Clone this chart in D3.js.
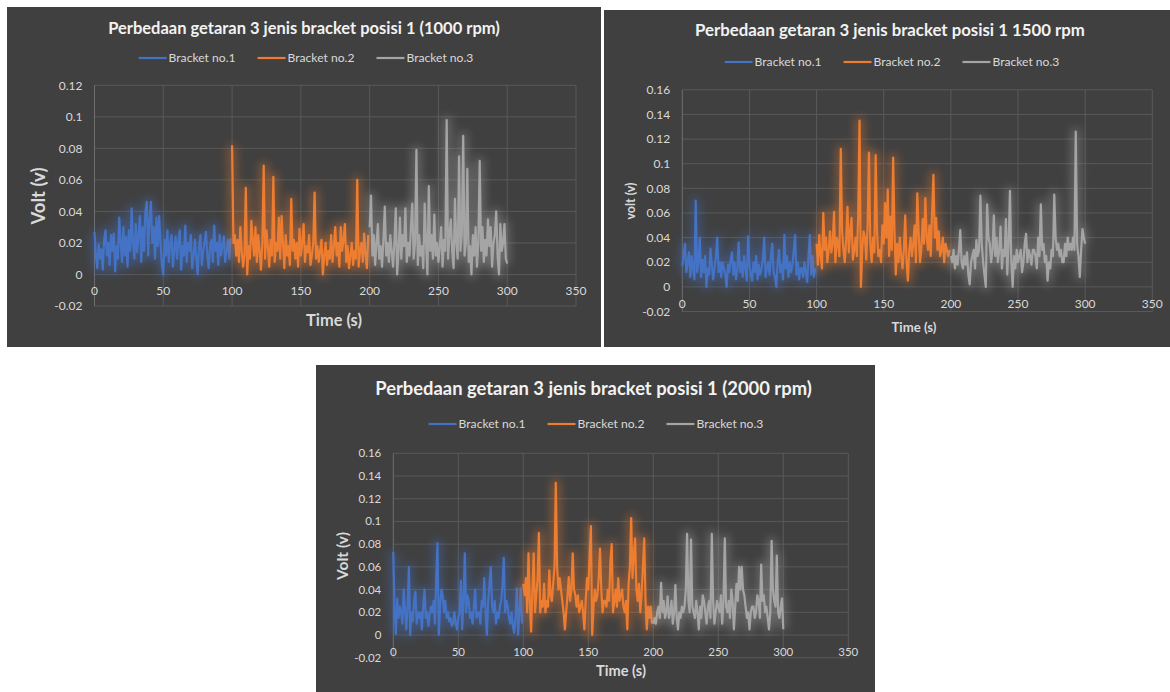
<!DOCTYPE html>
<html>
<head>
<meta charset="utf-8">
<script src="https://cdn.jsdelivr.net/npm/d3@7"></script>
<style>
  body { margin: 0; background: #ffffff; }
  svg { display: block; }
  text { font-family: Lato, "Open Sans", sans-serif; }
</style>
</head>
<body>
<svg id="chart" width="1170" height="692"></svg>
<script>
// ---- data ----
const SERIES_NAMES = ["Bracket no.1", "Bracket no.2", "Bracket no.3"];
const SERIES_COLORS = ["#4472c4", "#ed7d31", "#a5a5a5"];
const SERIES_START = [0, 100, 200]; // seconds, one sample per second

const TITLES = [
  "Perbedaan getaran 3 jenis bracket posisi 1 (1000 rpm)",
  "Perbedaan getaran 3 jenis bracket posisi 1 1500 rpm",
  "Perbedaan getaran 3 jenis bracket posisi 1 (2000 rpm)"
];
const Y_TITLES = ["Volt (v)", "volt (v)", "Volt (v)"];
const X_TITLE = "Time (s)";

const X_TICKS = [0, 50, 100, 150, 200, 250, 300, 350];
const Y_TICKS_SMALL = [-0.02, 0, 0.02, 0.04, 0.06, 0.08, 0.1, 0.12];
const Y_TICKS_LARGE = [-0.02, 0, 0.02, 0.04, 0.06, 0.08, 0.1, 0.12, 0.14, 0.16];

// 1000 rpm
const rpm1000_b1 = [0.027,0.012,0.004,0.019,0.01,0.016,0.003,0.022,0.028,0.012,
  0.02,0.006,0.025,0.015,0.026,0.002,0.018,0.01,0.036,0.02,
  0.008,0.03,0.012,0.024,0.005,0.028,0.015,0.042,0.02,0.01,
  0.032,0.014,0.025,0.037,0.008,0.03,0.015,0.04,0.046,0.012,
  0.035,0.046,0.02,0.03,0.01,0.036,0.018,0.037,0.02,0.006,
  0.0,0.022,0.012,0.028,0.008,0.019,0.025,0.005,0.016,0.024,
  0.01,0.02,0.028,0.003,0.018,0.012,0.031,0.008,0.02,0.015,
  0.025,0.004,0.012,0.022,0.01,0.0,0.018,0.025,0.006,0.015,
  0.02,0.027,0.012,0.004,0.018,0.022,0.008,0.031,0.015,0.02,
  0.006,0.025,0.012,0.018,0.024,0.008,0.015,0.022,0.01,0.023];
const rpm1000_b2 = [0.082,0.02,0.025,0.012,0.022,0.008,0.03,0.015,0.005,0.012,
  0.055,0.0,0.018,0.01,0.034,0.022,0.012,0.03,0.008,0.025,
  0.015,0.003,0.02,0.069,0.01,0.028,0.018,0.005,0.022,0.012,
  0.062,0.008,0.02,0.015,0.036,0.01,0.037,0.02,0.004,0.025,
  0.012,0.018,0.006,0.048,0.015,0.022,0.01,0.02,0.005,0.029,
  0.012,0.02,0.032,0.008,0.018,0.014,0.025,0.006,0.012,0.02,
  0.052,0.01,0.018,0.008,0.015,0.022,0.0,0.012,0.02,0.006,
  0.015,0.01,0.025,0.008,0.018,0.03,0.012,0.02,0.005,0.03,
  0.015,0.022,0.032,0.008,0.018,0.004,0.012,0.02,0.006,0.015,
  0.01,0.06,0.005,0.015,0.02,0.008,0.026,0.012,0.004,0.025];
const rpm1000_b3 = [0.03,0.05,0.012,0.025,0.006,0.02,0.032,0.01,0.018,0.005,
  0.022,0.043,0.012,0.02,0.008,0.025,0.015,0.005,0.02,0.042,
  0.0,0.015,0.036,0.01,0.025,0.018,0.042,0.008,0.02,0.012,
  0.03,0.045,0.01,0.02,0.079,0.006,0.025,0.012,0.018,0.004,
  0.045,0.02,0.0,0.056,0.015,0.025,0.01,0.038,0.012,0.02,
  0.008,0.018,0.03,0.005,0.022,0.015,0.098,0.01,0.025,0.035,
  0.015,0.004,0.048,0.02,0.01,0.075,0.015,0.025,0.088,0.012,
  0.02,0.067,0.008,0.018,0.0,0.025,0.012,0.03,0.005,0.02,
  0.072,0.015,0.03,0.008,0.022,0.012,0.035,0.018,0.03,0.005,
  0.02,0.025,0.04,0.012,0.0,0.032,0.015,0.02,0.032,0.01,
  0.007];

// 1500 rpm
const rpm1500_b1 = [0.017,0.025,0.035,0.012,0.02,0.028,0.008,0.025,0.015,0.006,
  0.07,0.012,0.02,0.04,0.008,0.022,0.012,0.025,0.0,0.015,
  0.01,0.031,0.018,0.006,0.015,0.025,0.04,0.012,0.02,0.008,
  0.02,0.015,0.01,0.0,0.018,0.012,0.022,0.028,0.01,0.02,
  0.006,0.015,0.036,0.012,0.02,0.008,0.025,0.015,0.005,0.041,
  0.018,0.01,0.005,0.02,0.012,0.025,0.006,0.018,0.01,0.015,
  0.022,0.04,0.008,0.015,0.02,0.01,0.025,0.035,0.012,0.008,
  0.0,0.02,0.03,0.012,0.018,0.006,0.042,0.015,0.025,0.008,
  0.02,0.012,0.018,0.03,0.042,0.01,0.02,0.006,0.015,0.015,
  0.008,0.02,0.012,0.004,0.025,0.042,0.01,0.025,0.008,0.015];
const rpm1500_b2 = [0.035,0.018,0.042,0.025,0.015,0.06,0.03,0.04,0.02,0.03,
  0.045,0.028,0.035,0.061,0.02,0.04,0.035,0.025,0.112,0.045,
  0.03,0.02,0.038,0.065,0.028,0.045,0.056,0.022,0.03,0.04,
  0.025,0.058,0.135,0.0,0.03,0.045,0.04,0.022,0.05,0.109,
  0.035,0.02,0.04,0.028,0.107,0.045,0.025,0.03,0.02,0.05,
  0.035,0.068,0.04,0.079,0.025,0.057,0.03,0.105,0.045,0.01,
  0.035,0.02,0.04,0.025,0.015,0.03,0.058,0.02,0.005,0.03,
  0.04,0.025,0.035,0.05,0.02,0.076,0.045,0.02,0.03,0.055,
  0.035,0.072,0.04,0.03,0.05,0.025,0.06,0.091,0.04,0.056,
  0.03,0.045,0.025,0.03,0.04,0.02,0.035,0.03,0.025,0.03];
const rpm1500_b3 = [0.025,0.02,0.03,0.015,0.025,0.018,0.03,0.046,0.02,0.015,
  0.025,0.018,0.028,0.01,0.002,0.02,0.025,0.03,0.015,0.038,
  0.025,0.03,0.074,0.035,0.02,0.01,0.0,0.067,0.04,0.035,
  0.02,0.03,0.058,0.025,0.04,0.02,0.03,0.049,0.015,0.03,
  0.025,0.055,0.01,0.035,0.078,0.02,0.0,0.025,0.015,0.03,
  0.02,0.025,0.03,0.012,0.02,0.035,0.043,0.02,0.03,0.025,
  0.018,0.03,0.03,0.025,0.015,0.04,0.025,0.067,0.03,0.035,
  0.02,0.025,0.005,0.02,0.015,0.03,0.025,0.075,0.04,0.03,
  0.035,0.025,0.03,0.02,0.02,0.035,0.025,0.04,0.03,0.035,
  0.03,0.04,0.03,0.126,0.035,0.025,0.008,0.03,0.047,0.04,
  0.035];

// 2000 rpm
const rpm2000_b1 = [0.073,0.02,0.001,0.032,0.015,0.025,0.02,0.01,0.04,0.022,
  0.005,0.025,0.06,0.0,0.02,0.012,0.03,0.038,0.01,0.02,
  0.015,0.02,0.005,0.025,0.04,0.015,0.02,0.008,0.018,0.025,
  0.02,0.03,0.01,0.05,0.081,0.0,0.025,0.04,0.035,0.02,
  0.03,0.015,0.02,0.012,0.015,0.008,0.01,0.02,0.01,0.005,
  0.015,0.02,0.048,0.005,0.03,0.072,0.02,0.035,0.03,0.015,
  0.02,0.01,0.025,0.04,0.015,0.018,0.02,0.01,0.03,0.025,
  0.05,0.02,0.0,0.03,0.045,0.06,0.025,0.02,0.03,0.01,
  0.02,0.015,0.025,0.03,0.045,0.068,0.02,0.03,0.025,0.015,
  0.01,0.02,0.008,0.002,0.015,0.041,0.0,0.02,0.041,0.01];
const rpm2000_b2 = [0.045,0.035,0.05,0.02,0.072,0.03,0.003,0.04,0.072,0.02,
  0.035,0.05,0.09,0.02,0.03,0.025,0.045,0.02,0.03,0.025,
  0.057,0.035,0.03,0.045,0.06,0.134,0.06,0.04,0.05,0.04,
  0.03,0.02,0.005,0.02,0.035,0.051,0.03,0.04,0.072,0.04,
  0.035,0.025,0.035,0.02,0.025,0.03,0.02,0.005,0.03,0.05,
  0.04,0.07,0.096,0.0,0.025,0.04,0.03,0.035,0.05,0.076,
  0.04,0.02,0.03,0.03,0.025,0.04,0.03,0.065,0.08,0.02,
  0.03,0.04,0.025,0.05,0.03,0.035,0.04,0.025,0.02,0.03,
  0.005,0.045,0.06,0.103,0.05,0.07,0.085,0.04,0.03,0.045,
  0.02,0.035,0.06,0.085,0.03,0.005,0.025,0.015,0.025,0.01];
const rpm2000_b3 = [0.01,0.015,0.01,0.02,0.025,0.015,0.046,0.02,0.03,0.015,
  0.02,0.034,0.015,0.02,0.03,0.01,0.02,0.044,0.015,0.005,
  0.02,0.015,0.025,0.02,0.025,0.04,0.089,0.03,0.02,0.084,
  0.025,0.02,0.015,0.03,0.02,0.005,0.025,0.015,0.035,0.03,
  0.02,0.01,0.025,0.03,0.015,0.089,0.03,0.01,0.02,0.03,
  0.025,0.02,0.035,0.01,0.03,0.085,0.025,0.02,0.03,0.015,
  0.04,0.03,0.005,0.025,0.045,0.03,0.06,0.04,0.06,0.04,
  0.035,0.025,0.015,0.02,0.005,0.02,0.025,0.025,0.015,0.02,
  0.035,0.03,0.015,0.062,0.03,0.035,0.02,0.025,0.015,0.005,
  0.02,0.083,0.04,0.03,0.025,0.07,0.02,0.015,0.025,0.032,
  0.005];

// ---- layout of the three panels ----
const charts = [
  {
    panel: { x: 7, y: 7, w: 594, h: 340 },
    plot: { left: 94.5, right: 576, top: 85.3, bottom: 306 },
    yMax: 0.12, yTicks: Y_TICKS_SMALL,
    series: [rpm1000_b1, rpm1000_b2, rpm1000_b3],
    title: TITLES[0], titleX: 304, titleY: 28, titleW: 392,
    legendX: 306, legendY: 58,
    yTitle: Y_TITLES[0], yTitleX: 39, yTitleY: 196, yTitleW: 57,
    xTitleX: 334, xTitleY: 320, xTitleW: 56,
    tickFont: 12
  },
  {
    panel: { x: 604, y: 10, w: 566, h: 337 },
    plot: { left: 682.3, right: 1152.3, top: 89.8, bottom: 311.5 },
    yMax: 0.16, yTicks: Y_TICKS_LARGE,
    series: [rpm1500_b1, rpm1500_b2, rpm1500_b3],
    title: TITLES[1], titleX: 890, titleY: 30, titleW: 390,
    legendX: 892, legendY: 62,
    yTitle: Y_TITLES[1], yTitleX: 631, yTitleY: 201, yTitleW: 37,
    xTitleX: 914, xTitleY: 327, xTitleW: 45,
    tickFont: 12
  },
  {
    panel: { x: 316, y: 365, w: 559, h: 327 },
    plot: { left: 393.3, right: 848.3, top: 453.3, bottom: 657.7 },
    yMax: 0.16, yTicks: Y_TICKS_LARGE,
    series: [rpm2000_b1, rpm2000_b2, rpm2000_b3],
    title: TITLES[2], titleX: 593.5, titleY: 389, titleW: 437,
    legendX: 596, legendY: 424,
    yTitle: Y_TITLES[2], yTitleX: 343, yTitleY: 556, yTitleW: 48,
    xTitleX: 621, xTitleY: 671, xTitleW: 50,
    tickFont: 11.5
  }
];

const svg = d3.select("#chart");

// soft glow behind each line
svg.append("defs").append("filter")
  .attr("id", "glow")
  .attr("x", "-10%").attr("y", "-30%")
  .attr("width", "120%").attr("height", "160%")
  .append("feGaussianBlur")
  .attr("stdDeviation", 5);

// scale a text's font size so it spans the wanted width
function fitWidth(sel, width) {
  const w = sel.node().getComputedTextLength();
  const fs = parseFloat(sel.attr("font-size"));
  sel.attr("font-size", fs * width / w);
}

const fmt = d => String(+d.toFixed(2));

function drawChart(cfg) {
  const g = svg.append("g");
  const p = cfg.plot;

  g.append("rect")
    .attr("x", cfg.panel.x).attr("y", cfg.panel.y)
    .attr("width", cfg.panel.w).attr("height", cfg.panel.h)
    .attr("fill", "#404040");

  const x = d3.scaleLinear().domain([0, 350]).range([p.left, p.right]);
  const y = d3.scaleLinear().domain([-0.02, cfg.yMax]).range([p.bottom, p.top]);

  // gridlines
  g.selectAll("line.hgrid")
    .data(cfg.yTicks)
    .join("line")
      .attr("class", "hgrid")
      .attr("x1", p.left).attr("x2", p.right)
      .attr("y1", d => y(d)).attr("y2", d => y(d))
      .attr("stroke", "#595959").attr("stroke-width", 1);

  g.selectAll("line.vgrid")
    .data(X_TICKS)
    .join("line")
      .attr("class", "vgrid")
      .attr("x1", d => x(d)).attr("x2", d => x(d))
      .attr("y1", p.top).attr("y2", p.bottom)
      .attr("stroke", d => d === 0 ? "#6e6e6e" : "#595959")
      .attr("stroke-width", 1);

  // tick labels
  g.selectAll("text.ylab")
    .data(cfg.yTicks)
    .join("text")
      .attr("class", "ylab")
      .attr("x", p.left - 12)
      .attr("y", d => y(d))
      .attr("dy", "0.35em")
      .attr("text-anchor", "end")
      .attr("font-size", cfg.tickFont)
      .attr("fill", "#d9d9d9")
      .text(fmt);

  g.selectAll("text.xlab")
    .data(X_TICKS)
    .join("text")
      .attr("class", "xlab")
      .attr("x", d => x(d))
      .attr("y", y(0) + 16.5)
      .attr("dy", "0.35em")
      .attr("text-anchor", "middle")
      .attr("font-size", cfg.tickFont)
      .attr("fill", "#d9d9d9")
      .text(d => d);

  // series lines with glow
  const line = d3.line()
    .x(d => x(d.t))
    .y(d => y(d.v));

  cfg.series.forEach((vals, i) => {
    const pts = vals.map((v, j) => ({ t: SERIES_START[i] + j, v: v }));
    g.append("path")
      .datum(pts)
      .attr("d", line)
      .attr("fill", "none")
      .attr("stroke", SERIES_COLORS[i])
      .attr("stroke-width", 8)
      .attr("stroke-linejoin", "round")
      .attr("opacity", 0.42)
      .attr("filter", "url(#glow)");
    g.append("path")
      .datum(pts)
      .attr("d", line)
      .attr("fill", "none")
      .attr("stroke", SERIES_COLORS[i])
      .attr("stroke-width", 2.2)
      .attr("stroke-linejoin", "round");
  });

  // title
  const title = g.append("text")
    .attr("x", cfg.titleX).attr("y", cfg.titleY)
    .attr("dy", "0.35em")
    .attr("text-anchor", "middle")
    .attr("font-size", 15)
    .attr("font-weight", "bold")
    .attr("fill", "#f2f2f2")
    .text(cfg.title);
  fitWidth(title, cfg.titleW);

  // legend
  const leg = g.append("g");
  let lx = 0;
  let legFont = 12;
  SERIES_NAMES.forEach((name, i) => {
    leg.append("line")
      .attr("x1", lx).attr("x2", lx + 28)
      .attr("y1", 0).attr("y2", 0)
      .attr("stroke", SERIES_COLORS[i]).attr("stroke-width", 2.2);
    const t = leg.append("text")
      .attr("x", lx + 30).attr("y", 0)
      .attr("dy", "0.35em")
      .attr("font-size", legFont)
      .attr("fill", "#d9d9d9")
      .text(name);
    if (i === 0) {
      fitWidth(t, 67);
      legFont = parseFloat(t.attr("font-size"));
    }
    lx += 30 + t.node().getComputedTextLength() + 22;
  });
  const legW = lx - 22;
  leg.attr("transform", `translate(${cfg.legendX - legW / 2},${cfg.legendY})`);

  // axis titles
  const yt = g.append("text")
    .attr("transform", `translate(${cfg.yTitleX},${cfg.yTitleY}) rotate(-90)`)
    .attr("dy", "0.35em")
    .attr("text-anchor", "middle")
    .attr("font-size", 14)
    .attr("font-weight", "bold")
    .attr("fill", "#d9d9d9")
    .text(cfg.yTitle);
  fitWidth(yt, cfg.yTitleW);

  const xt = g.append("text")
    .attr("x", cfg.xTitleX).attr("y", cfg.xTitleY)
    .attr("dy", "0.35em")
    .attr("text-anchor", "middle")
    .attr("font-size", 14)
    .attr("font-weight", "bold")
    .attr("fill", "#d9d9d9")
    .text(X_TITLE);
  fitWidth(xt, cfg.xTitleW);
}

charts.forEach(drawChart);
</script>
</body>
</html>
